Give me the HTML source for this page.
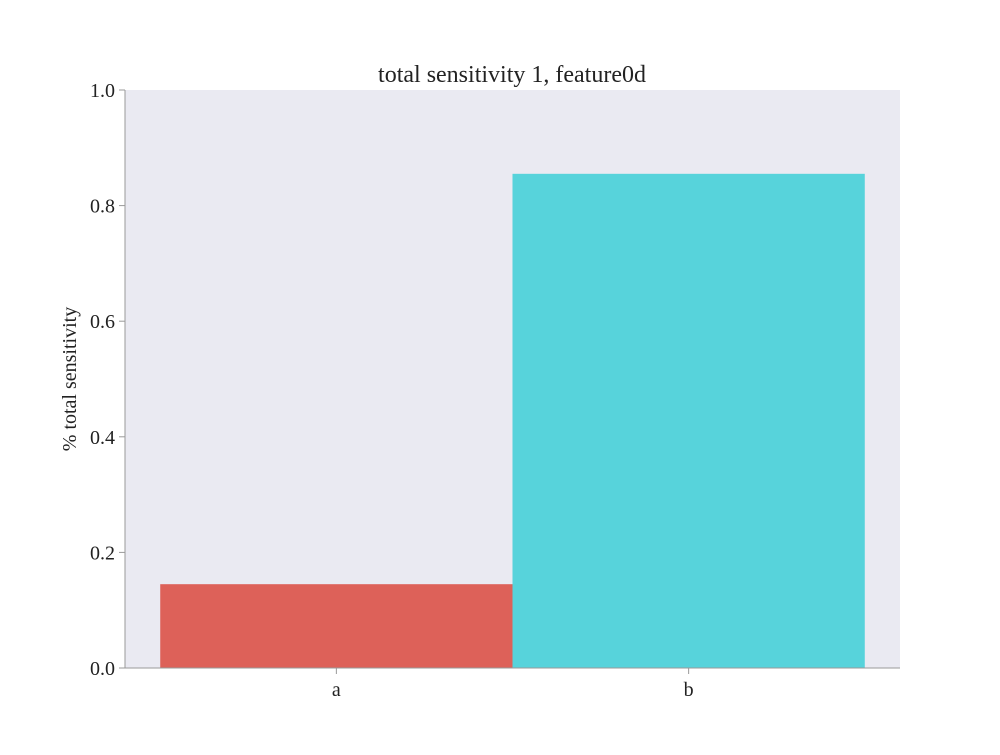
<!DOCTYPE html>
<html><head><meta charset="utf-8"><style>
html,body{margin:0;padding:0;background:#fff;}
svg text{font-family:"Liberation Serif","DejaVu Serif",serif;fill:#222;}
</style></head><body>
<svg id="chart" width="1000" height="750" viewBox="0 0 1000 750" xmlns="http://www.w3.org/2000/svg">
<rect x="125" y="90" width="775" height="578" fill="#eaeaf2"/>
<g id="bars"></g>
<g id="axes"></g>
<text x="512" y="82" font-size="24" text-anchor="middle">total sensitivity 1, feature0d</text>
<text transform="translate(76,379) rotate(-90)" font-size="20" text-anchor="middle">% total sensitivity</text>
</svg>
<script>
const categories = ["a", "b"];
const values = [0.145, 0.855];
const colors = ["#dd6159", "#57d3db"];
const yTicks = [0, 0.2, 0.4, 0.6, 0.8, 1.0];
const yTickLabels = ["0.0", "0.2", "0.4", "0.6", "0.8", "1.0"];

const X0 = 125, X1 = 900, Y0 = 668, Y1 = 90;
const xMin = -0.6, xMax = 1.6;
function xs(v){ return X0 + (v - xMin) / (xMax - xMin) * (X1 - X0); }
function ys(v){ return Y0 - v * (Y0 - Y1); }
const NS = "http://www.w3.org/2000/svg";
const bars = document.getElementById("bars");
const axes = document.getElementById("axes");

categories.forEach((c, i) => {
  const r = document.createElementNS(NS, "rect");
  
  
  r.setAttribute("x", xs(i - 0.5));
  r.setAttribute("width", xs(i + 0.5) - xs(i - 0.5));
  r.setAttribute("y", ys(values[i]));
  r.setAttribute("height", ys(0) - ys(values[i]));
  r.setAttribute("fill", colors[i]);
  bars.appendChild(r);
  const t = document.createElementNS(NS, "line");
  
  
  t.setAttribute("x1", xs(i)); t.setAttribute("x2", xs(i));
  t.setAttribute("y1", Y0); t.setAttribute("y2", Y0 + 6);
  t.setAttribute("stroke", "#999");
  axes.appendChild(t);
  const l = document.createElementNS(NS, "text");
  
  
  l.setAttribute("x", xs(i)); l.setAttribute("y", Y0 + 28);
  l.setAttribute("font-size", "20"); l.setAttribute("text-anchor", "middle");
  l.textContent = c;
  axes.appendChild(l);
});
yTicks.forEach((v, i) => {
  const t = document.createElementNS(NS, "line");
  
  
  t.setAttribute("x1", X0 - 6); t.setAttribute("x2", X0);
  t.setAttribute("y1", ys(v)); t.setAttribute("y2", ys(v));
  t.setAttribute("stroke", "#999");
  axes.appendChild(t);
  const l = document.createElementNS(NS, "text");
  
  
  l.setAttribute("x", X0 - 10); l.setAttribute("y", ys(v) + 7);
  l.setAttribute("font-size", "20"); l.setAttribute("text-anchor", "end");
  l.textContent = yTickLabels[i];
  axes.appendChild(l);
});
const ya = document.createElementNS(NS, "line");


ya.setAttribute("x1", X0); ya.setAttribute("x2", X0); ya.setAttribute("y1", Y1); ya.setAttribute("y2", Y0);
ya.setAttribute("stroke", "#999");
axes.appendChild(ya);
const xa = document.createElementNS(NS, "line");


xa.setAttribute("x1", X0); xa.setAttribute("x2", X1); xa.setAttribute("y1", Y0); xa.setAttribute("y2", Y0);
xa.setAttribute("stroke", "#999");
axes.appendChild(xa);
</script>
</body></html>
